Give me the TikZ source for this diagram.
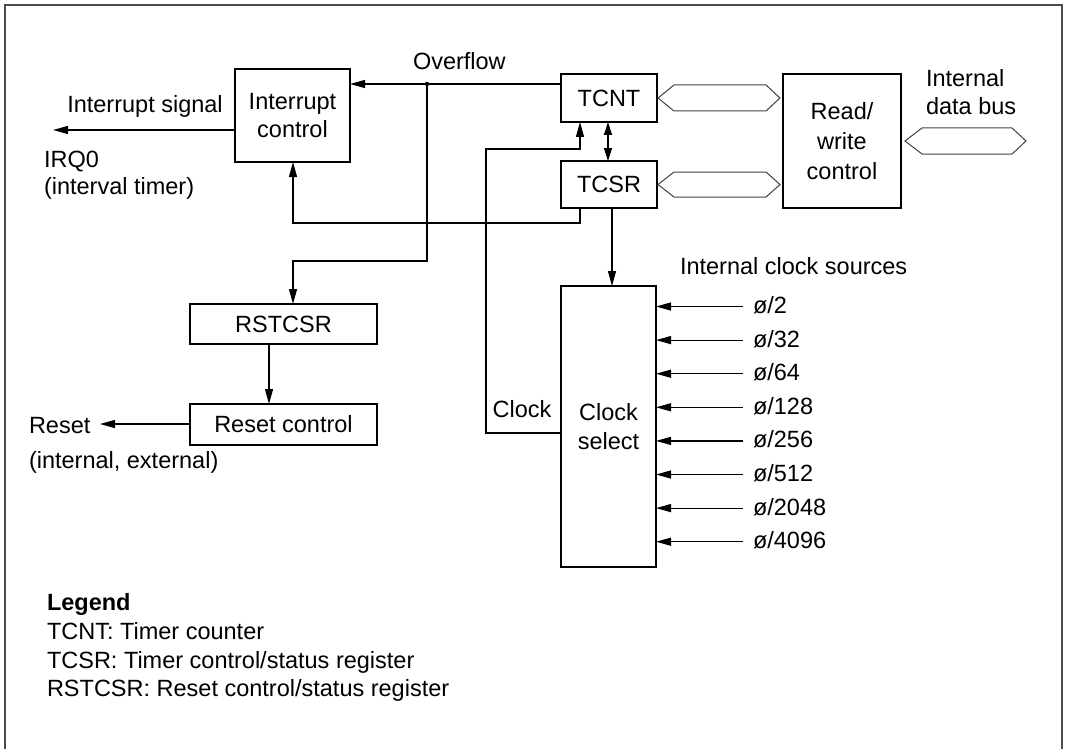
\documentclass[tikz,border=0pt]{standalone}
\usepackage{fontspec}
\setmainfont{Liberation Sans}
\usetikzlibrary{arrows.meta}
\begin{document}
\begin{tikzpicture}[x=1pt,y=-1pt,
  every node/.style={font=\fontsize{23.5}{28.5}\selectfont, inner sep=0pt, outer sep=0pt},
  blk/.style={draw, line width=1.8pt, align=center},
  lbl/.style={anchor=base west},
  wire/.style={line width=1.2pt},
  arr/.style={wire, -{Triangle[length=15pt,width=8pt]}},
  dbl/.style={wire, {Triangle[length=13pt,width=8pt]}-{Triangle[length=13pt,width=8pt]}},
  bus/.style={draw=black!75, line width=1pt, line join=miter}]
\useasboundingbox (0,0) rectangle (1065,749);
\draw[black!70, line width=1.5pt] (5,749) -- (5,5) -- (1062,5) -- (1062,749);

% blocks
\node[blk, minimum width=115, minimum height=93] (ic) at (292.5,115.5) {Interrupt\\control};
\node[blk, minimum width=96, minimum height=48] (tcnt) at (609,98) {TCNT};
\node[blk, minimum width=96, minimum height=47] (tcsr) at (609,184.5) {TCSR};
\node[blk, minimum width=118, minimum height=134] (rw) at (842,141) {Read/\\[1.5pt]write\\[1.5pt]control};
\node[blk, minimum width=187, minimum height=40] (rst) at (283.5,324) {RSTCSR};
\node[blk, minimum width=187, minimum height=41] (rc) at (283.5,424.5) {Reset control};
\node[blk, minimum width=95, minimum height=281] (cs) at (608.5,426.5) {Clock\\select};

% free labels
\node[lbl] (ovl) at (413,70) {Overflow};
\node[anchor=base] (isl) at (145,113) {Interrupt signal};
\node[lbl] (irq) at (44,167) {IRQ0};
\node[lbl] (ivt) at (44,194) {(interval timer)};
\node[lbl] (rsl) at (29,433) {Reset};
\node[lbl] (iel) at (29,468) {(internal, external)};
\node[lbl] (idb1) at (926,87) {Internal};
\node[lbl] (idb2) at (926,115) {data bus};
\node[anchor=base] (ckl) at (522,417) {Clock};
\node[lbl] (icl) at (680,274) {Internal clock sources};

% buses
\draw[bus] (658,98) -- (674,85) -- (766,85) -- (780,98) -- (766,111) -- (674,111) -- cycle;
\draw[bus] (658,184.5) -- (674,172) -- (766,172) -- (780,184.5) -- (766,197) -- (674,197) -- cycle;
\draw[bus] (905,141) -- (922,128) -- (1012,128) -- (1026,141) -- (1012,154) -- (922,154) -- cycle;

% helper coordinates
\coordinate (ovf) at (427,84);
\coordinate (j1) at (293,261);
\coordinate (j2) at (293,223);
\coordinate (xa) at (580,0);
\coordinate (ck) at (486,433);
\coordinate (ck2) at (486,149);
\coordinate (xd) at (608,0);
\coordinate (xe) at (612,0);
\coordinate (xf) at (269,0);
\coordinate (iso) at (53,130);
\coordinate (rso) at (100,424);

% connectors
\draw[arr] (tcnt.west |- ovf) -- (ic.east |- ovf);
\fill (ovf) circle (2.2);
\draw[arr] (ovf) |- (j1) -- (rst.north -| j1);
\draw[arr] (tcsr.south -| xa) |- (j2) -- (ic.south -| j2);
\draw[arr] (cs.west |- ck) -- (ck) -- (ck2) -- (ck2 -| xa) -- (tcnt.south -| xa);
\draw[dbl] (tcnt.south -| xd) -- (tcsr.north -| xd);
\draw[arr] (tcsr.south -| xe) -- (cs.north -| xe);
\draw[arr] (rst.south -| xf) -- (rc.north -| xf);
\draw[arr] (ic.west |- iso) -- (iso);
\draw[arr] (rc.west |- rso) -- (rso);

% clock sources
\foreach \i/\t in {0/2,1/32,2/64,3/128,4/256,5/512,6/2048,7/4096}{
  \pgfmathsetmacro{\yy}{306.5+33.6*\i}
  \coordinate (s\i) at (743,\yy);
  \node[lbl] (c\i) at (753,\yy+7) {ø/\t};
  \draw[arr] (s\i) -- (cs.east |- s\i);
}

% legend
\node[lbl, font=\fontsize{23.5}{28.5}\selectfont\bfseries] (lg0) at (47,610) {Legend};
\node[lbl] (lg1) at (47,639.5) {TCNT: Timer counter};
\node[lbl] (lg2) at (47,668) {TCSR: Timer control/status register};
\node[lbl] (lg3) at (47,696.5) {RSTCSR: Reset control/status register};
\end{tikzpicture}
\end{document}
